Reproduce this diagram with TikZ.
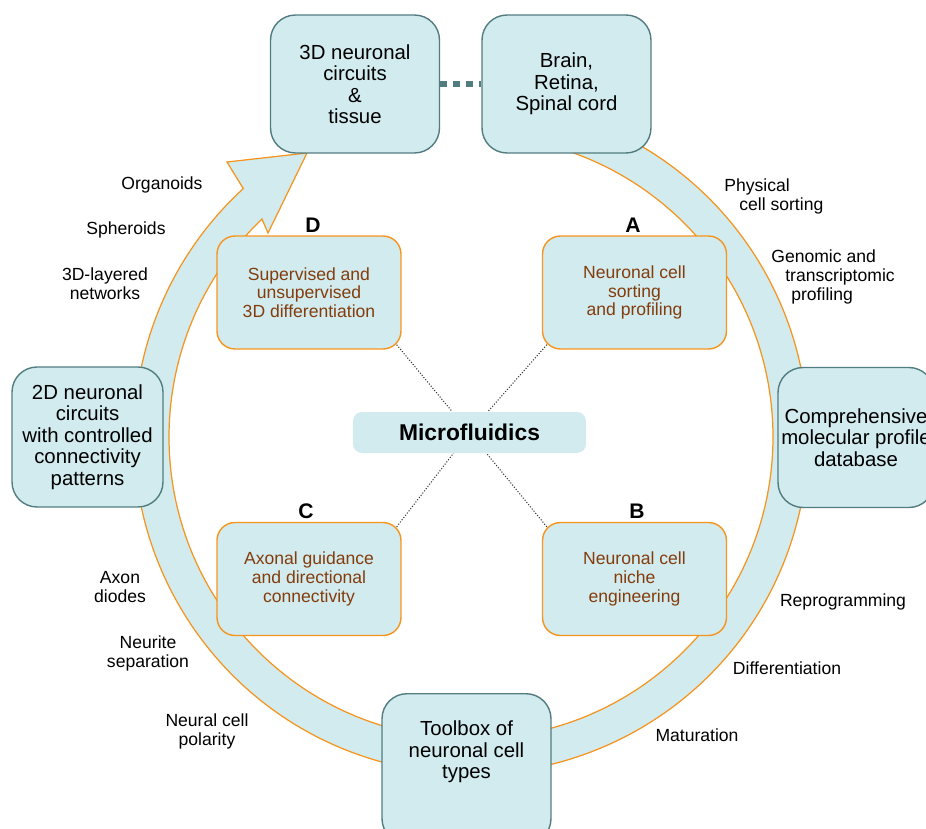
\documentclass[tikz,border=0pt]{standalone}
\usepackage{fontspec}
\setmainfont{Liberation Sans}
\usetikzlibrary{calc}

\definecolor{paleteal}{HTML}{D1EBEE}
\definecolor{slateteal}{HTML}{527D80}
\definecolor{ringorange}{HTML}{F7941D}
\definecolor{rust}{HTML}{843C0C}

\tikzset{
  boxtext/.style={align=center, inner sep=0pt, font=\fontsize{11.6}{12.2}\selectfont},
  outerbox/.style={boxtext, draw=slateteal, line width=0.8pt, fill=paleteal, rounded corners=0.5cm},
  innerbox/.style={draw=ringorange, line width=0.8pt, fill=paleteal, rounded corners=0.36cm,
    minimum width=3.68cm, minimum height=2.26cm, align=center, inner sep=0pt, text=rust,
    font=\fontsize{10}{10.6}\selectfont},
  tag/.style={inner sep=0pt, font=\fontsize{12}{14}\selectfont\bfseries},
  steplabel/.style={align=center, inner sep=0pt, font=\fontsize{10}{10.8}\selectfont},
  spoke/.style={densely dotted, line width=0.6pt, black!80},
  linkdash/.style={draw=slateteal, line width=3.4pt, dash pattern=on 4pt off 3.4pt},
}

\begin{document}
\begin{tikzpicture}[x=0.02cm, y=-0.02cm]
      \useasboundingbox (0,0) rectangle (926,828);
      \clip (0,0) rectangle (926,828);

      \coordinate (ctr) at (471,437);

      \filldraw[fill=paleteal, draw=ringorange, line width=0.7pt]
        (ctr) ++(-75:337) arc[start angle=-75, end angle=227.5, radius=337]
        -- (238,180) -- (227,162) -- (307,153) -- (268,233)
        -- ($(ctr)+(226.2:302)$) arc[start angle=226.2, end angle=-75, radius=302] -- cycle;



      \node[outerbox, minimum width=3.38cm, minimum height=2.76cm] (tissue) at (355,84)
        {3D neuronal\\circuits\\\&\\tissue};

      \node[outerbox, minimum width=3.38cm, minimum height=2.76cm] (brain) at (566.5,84)
        {Brain,\\Retina,\\Spinal cord};

      \draw[linkdash] (tissue.east) -- (brain.west);

      \node[outerbox, minimum width=3.02cm, minimum height=2.8cm] (planar) at (87.5,437)
        {2D neuronal\\circuits\\with controlled\\connectivity\\patterns};

      \node[outerbox, minimum width=3.12cm, minimum height=2.8cm] (profiles) at (856,437.5)
        {Comprehensive\\molecular profile\\database};

      \node[outerbox, minimum width=3.38cm, minimum height=3cm, anchor=north] (toolbox) at (466.5,693) {};
      \node[boxtext] (toolboxtext) at (466.5,752) {Toolbox of\\neuronal cell\\types};



      \node[innerbox] (sup3d) at (309,292.5) {Supervised and\\unsupervised\\3D differentiation};
      \node[tag] (tagD) at (313,225) {D};

      \node[innerbox] (sorting) at (634.5,292.5) {Neuronal cell\\sorting\\and profiling};
      \node[tag] (tagA) at (633,225) {A};

      \node[innerbox] (guidance) at (309,579) {Axonal guidance\\and directional\\connectivity};
      \node[tag] (tagC) at (306,511) {C};

      \node[innerbox] (niche) at (634.5,579) {Neuronal cell\\niche\\engineering};
      \node[tag] (tagB) at (637,511) {B};


      \node[fill=paleteal, rounded corners=0.18cm, minimum width=4.66cm, minimum height=0.82cm,
        font=\fontsize{13}{15}\selectfont\bfseries] (micro) at (469.5,432.5) {Microfluidics};

      \draw[spoke] ($(sup3d.south east)+(-5,-5)$) -- (micro);
      \draw[spoke] ($(sorting.south west)+(5,-5)$) -- (micro);
      \draw[spoke] ($(guidance.north east)+(-5,5)$) -- (micro);
      \draw[spoke] ($(niche.north west)+(5,5)$) -- (micro);



      \node[steplabel] (organoids) at (162,185) {Organoids};
      \node[steplabel] (spheroids) at (126,230) {Spheroids};
      \node[steplabel] (layered) at (105,283.5) {3D-layered\\networks};

      \node[steplabel] (diodes) at (120,587.5) {Axon\\diodes};
      \node[steplabel] (separation) at (148,653) {Neurite\\separation};
      \node[steplabel] (polarity) at (207,731.5) {Neural cell\\polarity};

      \node[steplabel, align=left, anchor=west] (physical) at (724,196)
        {Physical\\\hspace*{0.3cm}cell sorting};
      \node[steplabel, align=left, anchor=west] (genomic) at (771,276.5)
        {Genomic and\\\hspace*{0.28cm}transcriptomic\\\hspace*{0.4cm}profiling};

      \node[steplabel] (reprog) at (843,602) {Reprogramming};
      \node[steplabel] (differ) at (787,668) {Differentiation};
      \node[steplabel] (maturation) at (697,735) {Maturation};
    \end{tikzpicture}
\end{document}
